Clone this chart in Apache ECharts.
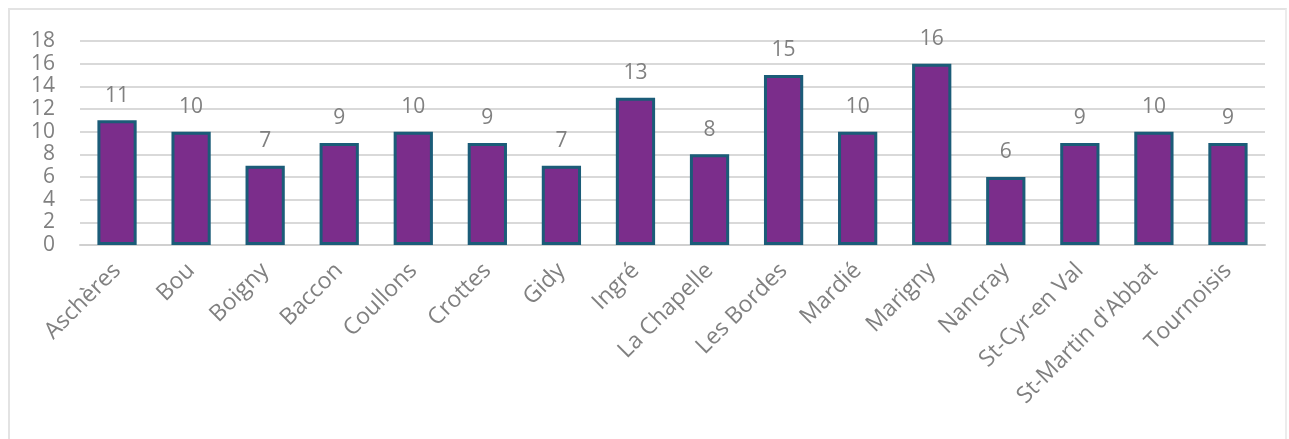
<!DOCTYPE html>
<html>
<head>
<meta charset="utf-8">
<script src="https://cdn.jsdelivr.net/npm/echarts@6/dist/echarts.min.js"></script>
<style>
  html, body { margin: 0; padding: 0; background: #fff; }
  .frame {
    position: absolute; left: 8px; top: 8px; width: 1279px; height: 440px;
    border-left: 2px solid #e3e3e3; border-top: 2px solid #e3e3e3; border-right: 2px solid #ececec;
    box-sizing: border-box;
  }
  #chart { position: absolute; left: 0; top: 0; width: 1289px; height: 439px; }
</style>
</head>
<body>
<div class="frame"></div>
<div id="chart"></div>
<script>
  // communes et valeurs
  const communes = ['Aschères', 'Bou', 'Boigny', 'Baccon', 'Coullons', 'Crottes', 'Gidy', 'Ingré',
    'La Chapelle', 'Les Bordes', 'Mardié', 'Marigny', 'Nancray', 'St-Cyr-en Val', "St-Martin d'Abbat", 'Tournoisis']
  const valeurs = [11, 10, 7, 9, 10, 9, 7, 13, 8, 15, 10, 16, 6, 9, 10, 9]
  const yTicks = [0, 2, 4, 6, 8, 10, 12, 14, 16, 18]

  const chart = echarts.init(document.getElementById('chart'))
  const font = 'Open Sans, Noto Sans, sans-serif'
  chart.setOption({
    animation: false,
    grid: { left: 80, right: 24, top: 41, bottom: 194 },
    xAxis: {
      type: 'category',
      data: communes,
      axisLine: { lineStyle: { color: '#d0d0d0', width: 2 } },
      axisTick: { show: false },
      axisLabel: {
        rotate: 45,
        interval: 0,
        color: '#808080',
        fontSize: 23,
        fontFamily: font,
        margin: 22
      }
    },
    yAxis: {
      type: 'value',
      min: yTicks[0],
      max: yTicks[yTicks.length - 1],
      interval: 2,
      axisLine: { show: false },
      axisTick: { show: false },
      splitLine: { lineStyle: { color: '#d9d9d9', width: 2 } },
      axisLabel: { color: '#808080', fontSize: 21, fontFamily: font, margin: 25 }
    },
    series: [{
      type: 'bar',
      data: valeurs,
      barWidth: '53%',
      itemStyle: { color: '#7b2d8b', borderColor: '#1b5c78', borderWidth: 3 },
      label: {
        show: true,
        position: 'top',
        distance: 14,
        color: '#808080',
        fontSize: 21,
        fontFamily: font
      }
    }]
  })
</script>
</body>
</html>
